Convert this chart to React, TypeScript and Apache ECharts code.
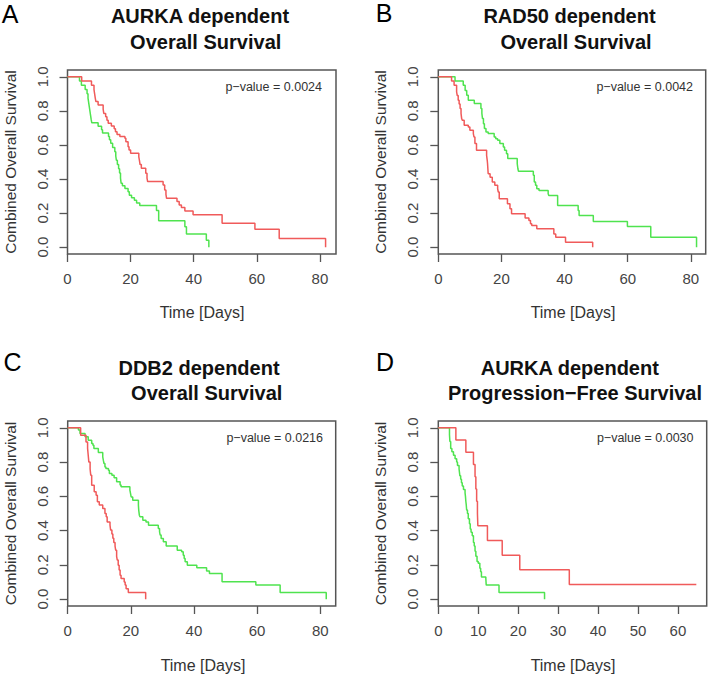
import React, { useEffect, useRef } from "react";
import * as echarts from "echarts";

// ---------- data ----------
const timeTicksOS = [0, 20, 40, 60, 80];
const timeTicksPFS = [0, 10, 20, 30, 40, 50, 60];
const survivalTicks = [0, 0.2, 0.4, 0.6, 0.8, 1.0];

const panelLetters = ["A", "B", "C", "D"];
const titleLine1 = ["AURKA dependent", "RAD50 dependent", "DDB2 dependent", "AURKA dependent"];
const titleLine2 = ["Overall Survival", "Overall Survival", "Overall Survival", "Progression\u2212Free Survival"];
const pValues = ["0.0024", "0.0042", "0.0216", "0.0030"];
const xAxisTitle = "Time [Days]";
const yAxisTitle = "Combined Overall Survival";

// [time, survival after the drop]
const aurkaOsGreen = [
  [0, 1], [3.8, 0.975], [4.4, 0.95], [5.6, 0.925], [6.2, 0.9], [6.5, 0.875], [6.7, 0.85],
  [6.9, 0.825], [7.1, 0.8], [7.3, 0.775], [7.5, 0.75], [7.7, 0.73], [9.7, 0.71], [10.8, 0.69],
  [11.1, 0.67], [13.0, 0.65], [13.3, 0.63], [13.7, 0.61], [14.3, 0.585], [15.0, 0.56],
  [15.3, 0.535], [15.5, 0.51], [15.8, 0.485], [16.2, 0.46], [16.5, 0.435], [16.8, 0.405],
  [17.0, 0.375], [17.4, 0.36], [18.2, 0.345], [19.2, 0.325], [19.6, 0.305], [20.3, 0.29],
  [21.2, 0.275], [21.9, 0.26], [22.9, 0.245], [28.2, 0.215], [28.9, 0.155], [37.2, 0.12],
  [37.7, 0.078], [44.0, 0.04], [44.8, 0.0],
];
const aurkaOsRed = [
  [0, 1], [4.5, 0.975], [7.6, 0.95], [8.4, 0.925], [8.6, 0.9], [8.8, 0.875], [9.0, 0.855],
  [9.7, 0.835], [11.3, 0.81], [11.5, 0.785], [12.1, 0.765], [12.5, 0.745], [12.9, 0.727],
  [13.9, 0.712], [14.8, 0.695], [15.2, 0.678], [15.7, 0.662], [16.6, 0.649], [18.2, 0.639],
  [18.5, 0.619], [19.2, 0.59], [19.5, 0.57], [20.0, 0.551], [22.6, 0.53], [22.8, 0.51],
  [23.0, 0.485], [23.4, 0.463], [24.8, 0.434], [25.2, 0.405], [25.4, 0.385], [30.3, 0.365],
  [30.8, 0.336], [31.2, 0.31], [31.4, 0.287], [34.7, 0.268], [35.4, 0.248], [36.1, 0.233],
  [37.2, 0.213], [39.8, 0.19], [49.0, 0.141], [59.4, 0.106], [67.1, 0.051], [81.8, 0.0],
];
const rad50Green = [
  [0, 1], [5.3, 0.975], [7.9, 0.951], [8.5, 0.92], [9.0, 0.892], [9.5, 0.863], [11.4, 0.843],
  [13.5, 0.814], [13.8, 0.785], [14.0, 0.755], [14.3, 0.725], [14.6, 0.696], [15.1, 0.676],
  [15.8, 0.667], [17.7, 0.647], [18.2, 0.637], [18.8, 0.627], [19.5, 0.608], [20.6, 0.588],
  [21.0, 0.569], [21.6, 0.549], [22.0, 0.52], [25.0, 0.49], [25.2, 0.462], [25.4, 0.445],
  [30.1, 0.422], [30.4, 0.382], [30.8, 0.363], [31.2, 0.343], [31.9, 0.333], [34.8, 0.314],
  [35.0, 0.304], [37.8, 0.245], [44.3, 0.216], [44.6, 0.186], [49.1, 0.151], [59.9, 0.122],
  [67.3, 0.059], [81.8, 0.0],
];
const rad50Red = [
  [0, 1], [4.2, 0.975], [5.0, 0.95], [5.8, 0.912], [6.0, 0.89], [6.3, 0.863], [6.6, 0.84],
  [6.9, 0.814], [7.2, 0.785], [7.4, 0.755], [7.6, 0.745], [8.2, 0.716], [9.5, 0.706],
  [10.0, 0.686], [11.1, 0.667], [11.3, 0.647], [11.6, 0.608], [12.1, 0.569], [15.3, 0.539],
  [15.5, 0.51], [15.6, 0.49], [15.8, 0.431], [16.4, 0.41], [17.1, 0.382], [17.9, 0.363],
  [18.8, 0.343], [19.0, 0.324], [19.3, 0.284], [21.9, 0.255], [22.7, 0.225], [23.2, 0.196],
  [27.5, 0.171], [28.7, 0.157], [29.2, 0.137], [29.6, 0.127], [31.2, 0.108], [36.6, 0.078],
  [37.2, 0.059], [40.3, 0.029], [48.9, 0.0],
];
const ddb2Green = [
  [0, 1], [3.4, 0.987], [3.9, 0.967], [5.5, 0.948], [6.5, 0.928], [7.6, 0.909], [8.0, 0.899],
  [8.3, 0.879], [9.7, 0.856], [11.1, 0.83], [11.3, 0.81], [11.5, 0.792], [11.8, 0.772],
  [12.1, 0.763], [12.9, 0.753], [13.2, 0.734], [14.0, 0.724], [14.7, 0.708], [15.5, 0.685],
  [16.6, 0.666], [16.9, 0.656], [19.7, 0.636], [19.9, 0.617], [20.1, 0.597], [20.6, 0.578],
  [22.4, 0.549], [22.5, 0.52], [22.7, 0.49], [22.9, 0.481], [23.8, 0.461], [24.8, 0.451],
  [25.6, 0.432], [28.7, 0.413], [29.1, 0.393], [29.3, 0.374], [29.6, 0.354], [30.3, 0.335],
  [31.2, 0.31], [34.7, 0.286], [36.1, 0.276], [36.6, 0.257], [36.9, 0.237], [37.2, 0.218],
  [37.9, 0.198], [40.9, 0.184], [44.0, 0.165], [44.9, 0.15], [48.9, 0.101], [59.6, 0.082],
  [67.3, 0.039], [81.9, 0.0],
];
const ddb2Red = [
  [0, 1], [4.1, 0.957], [5.8, 0.918], [6.3, 0.88], [6.5, 0.84], [6.7, 0.8], [7.1, 0.76],
  [7.3, 0.724], [7.6, 0.665], [8.4, 0.627], [9.0, 0.607], [9.4, 0.568], [10.0, 0.549],
  [11.1, 0.529], [11.8, 0.5], [12.2, 0.481], [12.5, 0.451], [13.4, 0.432], [13.6, 0.403],
  [14.0, 0.38], [14.3, 0.355], [14.6, 0.33], [15.0, 0.31], [15.2, 0.286], [15.5, 0.25],
  [15.7, 0.228], [16.0, 0.198], [16.3, 0.17], [16.6, 0.14], [16.9, 0.121], [17.9, 0.1],
  [18.2, 0.082], [18.5, 0.06], [19.2, 0.039], [24.7, 0.0],
];
const aurkaPfsGreen = [
  [0, 1], [2.8, 0.96], [2.9, 0.92], [3.1, 0.88], [3.4, 0.86], [3.8, 0.84], [4.2, 0.82],
  [4.6, 0.8], [4.8, 0.78], [5.2, 0.76], [5.3, 0.74], [5.4, 0.72], [5.6, 0.7], [5.8, 0.68],
  [6.0, 0.66], [6.3, 0.64], [6.7, 0.62], [6.8, 0.6], [6.9, 0.57], [7.0, 0.55], [7.1, 0.52],
  [7.3, 0.5], [7.5, 0.47], [7.8, 0.44], [8.0, 0.41], [8.2, 0.39], [8.5, 0.37], [8.8, 0.33],
  [9.0, 0.31], [9.2, 0.28], [9.4, 0.25], [9.7, 0.22], [10.0, 0.21], [10.4, 0.18],
  [10.6, 0.16], [10.8, 0.13], [11.9, 0.12], [12.0, 0.082], [15.2, 0.039], [26.6, 0.0],
];
const aurkaPfsRed = [
  [0, 1], [4.4, 0.929], [6.9, 0.857], [8.8, 0.786], [9.2, 0.714], [9.4, 0.643], [9.6, 0.571],
  [9.8, 0.5], [9.9, 0.429], [12.3, 0.343], [16.0, 0.257], [20.4, 0.171], [32.8, 0.086],
  [64.6, 0.086],
];

const greenSeries = [aurkaOsGreen, rad50Green, ddb2Green, aurkaPfsGreen];
const redSeries = [aurkaOsRed, rad50Red, ddb2Red, aurkaPfsRed];

// ---------- layout / style ----------
const FONT = '"Liberation Sans", Arial, Helvetica, sans-serif';
const RED = "#f05a5a";
const GREEN = "#4fe34f";
const BOX = "#555";

const layout = [
  { left: 67.5, top: 70, width: 268.5, height: 184, xMax: 85.1, ticks: timeTicksOS,
    letter: [10, 14], t1: [200, 16], t2: [205.7, 41.7], p: [322, 87.3], xt: [202, 312], yt: [10.5, 162] },
  { left: 438.3, top: 70, width: 267.4, height: 184, xMax: 84.7, ticks: timeTicksOS,
    letter: [384, 13], t1: [569.5, 16], t2: [576, 41.7], p: [693, 87], xt: [573, 312.3], yt: [380, 162] },
  { left: 67.7, top: 421, width: 268, height: 185, xMax: 84.9, ticks: timeTicksOS,
    letter: [12.5, 362], t1: [199, 368], t2: [206.7, 393.3], p: [323, 437.7], xt: [203, 665], yt: [10, 513.5] },
  { left: 438.3, top: 421, width: 268.4, height: 185, xMax: 67.2, ticks: timeTicksPFS,
    letter: [385, 362], t1: [569.8, 367.7], t2: [575, 393.3], p: [693.5, 437.7], xt: [573, 665], yt: [380, 513.5] },
];

function txt(x: number, y: number, text: string, opts: any = {}) {
  return {
    type: "text",
    x,
    y,
    rotation: opts.rotation || 0,
    silent: true,
    style: {
      text,
      fontFamily: FONT,
      fontSize: opts.size || 15,
      fontWeight: opts.weight || "normal",
      fill: opts.fill || "#222",
      align: opts.align || "center",
      textAlign: opts.align || "center",
      verticalAlign: "middle",
      textVerticalAlign: "middle",
    },
  };
}

export default function App() {
  const ref = useRef<HTMLDivElement>(null);

  useEffect(() => {
    if (!ref.current) return;
    const chart = echarts.init(ref.current, null, { renderer: "svg" });

    const graphics: any[] = [];
    layout.forEach((l, i) => {
      graphics.push(txt(l.letter[0], l.letter[1], panelLetters[i], { size: 25, fill: "#000" }));
      graphics.push(txt(l.t1[0], l.t1[1], titleLine1[i], { size: 20, weight: "bold", fill: "#111" }));
      graphics.push(txt(l.t2[0], l.t2[1], titleLine2[i], { size: 20, weight: "bold", fill: "#111" }));
      graphics.push(txt(l.p[0], l.p[1], "p\u2212value = " + pValues[i], { size: 12.5, align: "right", fill: "#333" }));
      graphics.push(txt(l.xt[0], l.xt[1], xAxisTitle, { size: 16, fill: "#333" }));
      graphics.push(txt(l.yt[0], l.yt[1], yAxisTitle, { size: 15.5, fill: "#333", rotation: Math.PI / 2 }));
    });

    const option: any = {
      animation: false,
      backgroundColor: "#fff",
      grid: layout.map((l) => ({
        left: l.left,
        top: l.top,
        width: l.width,
        height: l.height,
        show: true,
        borderColor: BOX,
        borderWidth: 1.5,
        backgroundColor: "transparent",
        outerBoundsMode: "none",
        containLabel: false,
      })),
      xAxis: layout.map((l, i) => ({
        type: "value",
        gridIndex: i,
        min: 0,
        max: l.xMax,
        axisLine: { show: false, onZero: false },
        splitLine: { show: false },
        axisTick: { show: true, length: 8, customValues: l.ticks, lineStyle: { color: BOX, width: 1.3 } },
        axisLabel: {
          customValues: l.ticks,
          fontSize: 15,
          color: "#444",
          fontFamily: FONT,
          margin: 17,
        },
      })),
      yAxis: layout.map((l, i) => ({
        type: "value",
        gridIndex: i,
        min: -0.04,
        max: 1.04,
        axisLine: { show: false, onZero: false },
        splitLine: { show: false },
        axisTick: { show: true, length: 8, customValues: survivalTicks, lineStyle: { color: BOX, width: 1.3 } },
        axisLabel: {
          customValues: survivalTicks,
          rotate: 90,
          fontSize: 15,
          color: "#444",
          fontFamily: FONT,
          margin: 18,
          formatter: (v: number) => v.toFixed(1),
        },
      })),
      series: [
        ...greenSeries.map((d, i) => ({
          type: "line",
          name: "green" + i,
          xAxisIndex: i,
          yAxisIndex: i,
          data: d,
          step: "end",
          showSymbol: false,
          symbol: "none",
          silent: true,
          lineStyle: { color: GREEN, width: 1.5 },
          itemStyle: { color: GREEN },
        })),
        ...redSeries.map((d, i) => ({
          type: "line",
          name: "red" + i,
          xAxisIndex: i,
          yAxisIndex: i,
          data: d,
          step: "end",
          showSymbol: false,
          symbol: "none",
          silent: true,
          lineStyle: { color: RED, width: 1.5 },
          itemStyle: { color: RED },
        })),
      ],
      graphic: graphics,
    };

    chart.setOption(option);
    return () => chart.dispose();
  }, []);

  return (
    <div
      ref={ref}
      style={{ position: "absolute", left: 0, top: 0, width: 709, height: 675, background: "#fff" }}
    />
  );
}
